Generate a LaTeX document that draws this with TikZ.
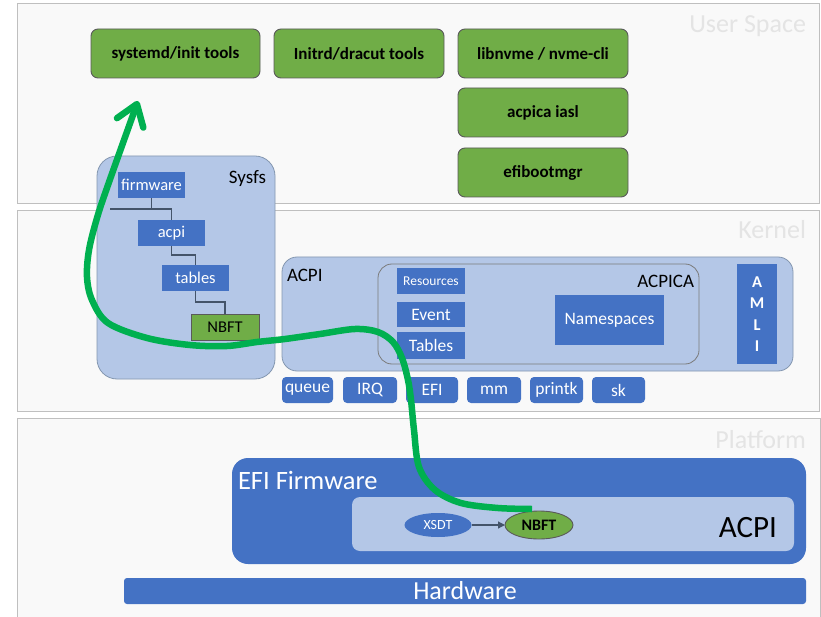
\documentclass[tikz,border=0pt]{standalone}
\usepackage{fontspec}
\setmainfont{Carlito}
\usetikzlibrary{arrows.meta,shapes.geometric}

\definecolor{panelfill}{HTML}{F9F9F9}
\definecolor{panelline}{HTML}{BFBFBF}
\definecolor{layertext}{HTML}{E4E4E4}
\definecolor{okgreen}{HTML}{70AD47}
\definecolor{darkedge}{HTML}{5A5A5A}
\definecolor{boxblue}{HTML}{4472C4}
\definecolor{paleblue}{HTML}{B4C7E7}
\definecolor{paleedge}{HTML}{8497B0}
\definecolor{treeline}{HTML}{44546A}
\definecolor{flow}{HTML}{00B050}

\newcommand{\fs}[1]{\fontsize{#1}{#1}\selectfont}

\tikzset{
  base/.style={inner sep=0pt, outer sep=0pt},
  panel/.style={base, draw=panelline, fill=panelfill, line width=0.8pt},
  layerlabel/.style={base, text=layertext, font=\fs{26}, anchor=base east},
  toolbox/.style={base, draw=darkedge, fill=okgreen, rounded corners=7pt,
    line width=0.9pt, minimum height=49pt, font=\bfseries\fs{17}},
  container/.style={base, draw=paleedge, fill=paleblue, line width=0.8pt},
  treebox/.style={base, fill=boxblue, text=white, minimum width=67pt,
    minimum height=26pt, font=\fs{16.5}},
  leafbox/.style={base, fill=okgreen, draw=darkedge, line width=0.8pt,
    minimum width=68pt, minimum height=26pt, font=\fs{16.5}},
  kbox/.style={base, fill=boxblue, text=white, font=\fs{17.5}},
  rowbox/.style={kbox, rounded corners=4pt, minimum height=26pt},
  caption/.style={base, font=\fs{19}},
  treelink/.style={draw=treeline, line width=1.2pt},
}

\begin{document}
\begin{tikzpicture}[x=1pt, y=-1pt]
\useasboundingbox (0,0) rectangle (821,617);
\fill[white] (0,0) rectangle (821,617);

% ---------- layers ----------
\node[panel, minimum width=802pt, minimum height=200pt] (user) at (418,103) {};
\node[panel, minimum width=802pt, minimum height=201pt] (kernel) at (418,310.5) {};
\node[panel, minimum width=803pt, minimum height=220pt] (platform) at (418.5,528) {};
\node[layerlabel] (userlbl) at (806,33) {User Space};
\node[layerlabel] (kernlbl) at (806,239) {Kernel};
\node[layerlabel] (platlbl) at (806,448) {Platform};

% ---------- user space tools ----------
\node[toolbox, minimum width=169pt] (systemd) at (175.5,53.5) {systemd/init tools};
\node[toolbox, minimum width=170pt] (dracut)  at (359,53.5)   {Initrd/dracut tools};
\node[toolbox, minimum width=170pt] (nvme)    at (543,53.5)   {libnvme / nvme-cli};
\node[toolbox, minimum width=170pt] (iasl)    at (543,112.5)  {acpica iasl};
\node[toolbox, minimum width=170pt] (efiboot) at (543,172.5)  {efibootmgr};

% ---------- sysfs tree ----------
\node[container, rounded corners=20pt, minimum width=178pt, minimum height=223pt]
  (sysfs) at (186,267.5) {};
\node[caption, anchor=base east] (sysfslbl) at (266,184) {Sysfs};
\node[treebox] (fw)     at (151.5,185) {firmware};
\node[treebox] (acpidir) at (171.5,233) {acpi};
\node[treebox] (tabdir) at (195.5,278) {tables};
\node[leafbox] (nbftdir) at (225,327) {NBFT};

\coordinate (j1) at (110,209);
\draw[treelink] (fw.south) -- (fw.south |- j1);
\draw[treelink] (j1) -| (acpidir.north);
\draw[treelink] (acpidir.south) -- ++(0,9) -| (tabdir.north);
\draw[treelink] (tabdir.south) -- ++(0,11) -| (nbftdir.north);

% ---------- ACPI subsystem ----------
\node[container, rounded corners=15pt, minimum width=511pt, minimum height=114pt]
  (acpik) at (537.5,314) {};
\node[caption, anchor=base west] (acpiklbl) at (287,282) {ACPI};
\node[container, draw=darkedge!80, rounded corners=14pt, minimum width=321pt,
  minimum height=100pt] (acpica) at (538.5,314) {};
\node[caption, anchor=base east] (acpicalbl) at (694,288) {ACPICA};
\node[kbox, minimum width=68pt, minimum height=26pt, font=\fs{13.5}] (res) at (431,281) {Resources};
\node[kbox, minimum width=68pt, minimum height=25pt] (event) at (431,314.5) {Event};
\node[kbox, minimum width=68pt, minimum height=27pt] (tabs)  at (431,345.5) {Tables};
\node[kbox, minimum width=109pt, minimum height=50pt] (ns) at (609.5,320) {Namespaces};
\node[kbox, minimum width=40pt, minimum height=99pt, align=center,
  font=\bfseries\fontsize{16.5}{21.3}\selectfont] (amli) at (757,314) {A\\M\\L\\I};

% ---------- kernel services ----------
\node[rowbox, minimum width=51pt] (queue)  at (307.5,390) {queue};
\node[rowbox, minimum width=54pt] (irq)    at (370,390)   {IRQ};
\node[rowbox, minimum width=52pt] (efik)   at (432,390)   {EFI};
\node[rowbox, minimum width=54pt] (mm)     at (494,390)   {mm};
\node[rowbox, minimum width=53pt] (printk) at (556.5,390) {printk};
\node[rowbox, minimum width=53pt] (sk)     at (618.5,390) {sk};

% ---------- platform ----------
\node[base, fill=boxblue, rounded corners=16pt, minimum width=574pt, minimum height=106pt]
  (efifw) at (519,511) {};
\node[base, text=white, font=\fs{26.5}, anchor=base west] (efilbl) at (238,489) {EFI Firmware};
\node[base, fill=paleblue, rounded corners=8pt, minimum width=442pt, minimum height=54pt]
  (acpip) at (573,524) {};
\node[base, font=\fs{31}, anchor=base east] (acpiplbl) at (777,537) {ACPI};
\node[base, ellipse, fill=boxblue, text=white, minimum width=67pt, minimum height=24pt,
  font=\fs{14}] (xsdt) at (438,525) {XSDT};
\node[base, ellipse, fill=okgreen, draw=darkedge, line width=0.9pt, minimum width=68pt,
  minimum height=28pt, font=\bfseries\fs{16}] (nbft) at (539,525) {NBFT};
\draw[-{Triangle[length=7pt,width=7pt]}, draw=treeline, fill=treeline, line width=1.2pt]
  (xsdt) -- (nbft);
\node[base, fill=boxblue, rounded corners=3pt, minimum width=682pt, minimum height=26pt,
  text=white, font=\fs{26}] (hw) at (465,591) {Hardware};

% ---------- NBFT flow up to user space ----------
\coordinate (flowstart) at ([xshift=-7pt, yshift=2pt]nbft.north);
\coordinate (flowtip) at (138,101);
\draw[flow, line width=6.5pt, line cap=butt,
  -{Straight Barb[length=20pt, width=28pt, round]}]
  plot[smooth, tension=0.55] coordinates {
    (flowstart) (498,508) (461,503) (435,490) (419,467) (414,430) (411,400)
    (408,380) (402,358) (393,342) (378,332) (355,329) (320,334) (285,339)
    (257,342) (227,346) (190,345) (147,338) (108,323) (92,300) (87,277)
    (89,250) (97,218) (108,185) (flowtip)};
\end{tikzpicture}
\end{document}
